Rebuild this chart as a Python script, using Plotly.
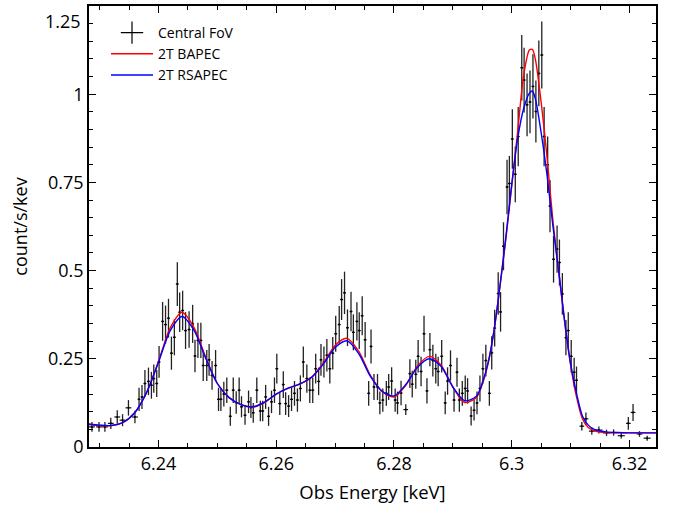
import plotly.graph_objects as go

# ---------------- data ----------------
energy = [6.2287, 6.2299, 6.2309, 6.2319, 6.2330, 6.2339, 6.2349, 6.2360, 6.2367, 6.2372,
          6.2377, 6.2383, 6.2388, 6.2392, 6.2397, 6.2401, 6.2407, 6.2412, 6.2417, 6.2422,
          6.2427, 6.2432, 6.2436, 6.2441, 6.2446, 6.2452, 6.2458, 6.2462, 6.2467, 6.2472,
          6.2476, 6.2482, 6.2486, 6.2491, 6.2497, 6.2502, 6.2506, 6.2511, 6.2516, 6.2522,
          6.2527, 6.2532, 6.2537, 6.2541, 6.2547, 6.2553, 6.2557, 6.2561, 6.2567, 6.2573,
          6.2577, 6.2582, 6.2587, 6.2592, 6.2597, 6.2601, 6.2606, 6.2612, 6.2616, 6.2621,
          6.2626, 6.2631, 6.2636, 6.2641, 6.2646, 6.2652, 6.2657, 6.2662, 6.2667, 6.2672,
          6.2676, 6.2681, 6.2686, 6.2691, 6.2696, 6.2701, 6.2707, 6.2711, 6.2716, 6.2721,
          6.2727, 6.2731, 6.2737, 6.2741, 6.2746, 6.2751, 6.2757, 6.2761, 6.2766, 6.2772,
          6.2776, 6.2781, 6.2787, 6.2791, 6.2796, 6.2802, 6.2806, 6.2812, 6.2820, 6.2827,
          6.2831, 6.2837, 6.2841, 6.2846, 6.2851, 6.2856, 6.2861, 6.2866, 6.2871, 6.2875,
          6.2881, 6.2887, 6.2891, 6.2896, 6.2902, 6.2907, 6.2911, 6.2916, 6.2921, 6.2925,
          6.2931, 6.2936, 6.2941, 6.2946, 6.2951, 6.2956, 6.2962, 6.2966, 6.2971, 6.2977,
          6.2981, 6.2986, 6.2992, 6.2996, 6.3001, 6.3006, 6.3011, 6.3017, 6.3021, 6.3026,
          6.3031, 6.3036, 6.3041, 6.3046, 6.3051, 6.3055, 6.3061, 6.3065, 6.3071, 6.3077,
          6.3081, 6.3086, 6.3092, 6.3096, 6.3101, 6.3106, 6.3110, 6.3119, 6.3126, 6.3136,
          6.3148, 6.3161, 6.3173, 6.3186, 6.3198, 6.3206, 6.3217, 6.3230]

rate = [0.057, 0.057, 0.057, 0.067, 0.085, 0.076, 0.111, 0.085, 0.135, 0.142,
        0.180, 0.186, 0.175, 0.194, 0.180, 0.241, 0.356, 0.347, 0.365, 0.266,
        0.311, 0.462, 0.382, 0.387, 0.330, 0.333, 0.349, 0.258, 0.302, 0.302,
        0.231, 0.231, 0.247, 0.203, 0.231, 0.135, 0.135, 0.150, 0.161, 0.087,
        0.161, 0.126, 0.161, 0.114, 0.090, 0.128, 0.112, 0.097, 0.161, 0.102,
        0.102, 0.142, 0.087, 0.128, 0.161, 0.222, 0.123, 0.177, 0.123, 0.116,
        0.135, 0.152, 0.133, 0.166, 0.241, 0.194, 0.161, 0.161, 0.222, 0.186,
        0.247, 0.241, 0.260, 0.222, 0.266, 0.321, 0.347, 0.418, 0.437, 0.338,
        0.384, 0.325, 0.356, 0.330, 0.372, 0.304, 0.152, 0.285, 0.170, 0.170,
        0.125, 0.133, 0.152, 0.170, 0.187, 0.133, 0.125, 0.153, 0.106, 0.208,
        0.178, 0.206, 0.257, 0.214, 0.321, 0.159, 0.276, 0.245, 0.222, 0.214,
        0.257, 0.125, 0.187, 0.231, 0.133, 0.212, 0.133, 0.152, 0.166, 0.159,
        0.088, 0.104, 0.125, 0.166, 0.222, 0.245, 0.152, 0.267, 0.337, 0.435,
        0.383, 0.569, 0.737, 0.747, 0.873, 0.773, 0.880, 1.075, 1.040, 0.970,
        0.978, 1.022, 0.951, 1.059, 1.111, 0.880, 0.800, 0.683, 0.532, 0.561,
        0.523, 0.434, 0.310, 0.330, 0.257, 0.212, 0.189, 0.059, 0.080, 0.045,
        0.048, 0.040, 0.041, 0.032, 0.067, 0.098, 0.037, 0.025]

rate_err = [0.014, 0.014, 0.014, 0.016, 0.019, 0.017, 0.022, 0.018, 0.033, 0.034,
            0.038, 0.039, 0.038, 0.040, 0.038, 0.045, 0.055, 0.054, 0.055, 0.047,
            0.051, 0.062, 0.056, 0.056, 0.052, 0.052, 0.054, 0.046, 0.050, 0.050,
            0.044, 0.044, 0.045, 0.041, 0.044, 0.033, 0.033, 0.035, 0.036, 0.027,
            0.036, 0.032, 0.036, 0.030, 0.027, 0.032, 0.030, 0.028, 0.036, 0.029,
            0.029, 0.034, 0.027, 0.032, 0.036, 0.042, 0.032, 0.038, 0.032, 0.031,
            0.033, 0.035, 0.033, 0.037, 0.044, 0.040, 0.036, 0.036, 0.042, 0.039,
            0.045, 0.044, 0.046, 0.042, 0.046, 0.051, 0.053, 0.058, 0.060, 0.052,
            0.056, 0.051, 0.054, 0.052, 0.055, 0.050, 0.035, 0.048, 0.037, 0.037,
            0.032, 0.033, 0.035, 0.037, 0.039, 0.033, 0.032, 0.035, 0.015, 0.041,
            0.038, 0.041, 0.046, 0.042, 0.051, 0.036, 0.047, 0.045, 0.042, 0.042,
            0.046, 0.032, 0.039, 0.043, 0.033, 0.041, 0.033, 0.035, 0.037, 0.036,
            0.027, 0.029, 0.032, 0.037, 0.042, 0.045, 0.035, 0.047, 0.052, 0.060,
            0.056, 0.068, 0.077, 0.078, 0.084, 0.079, 0.084, 0.093, 0.092, 0.089,
            0.089, 0.091, 0.088, 0.093, 0.095, 0.084, 0.080, 0.074, 0.066, 0.067,
            0.065, 0.059, 0.050, 0.052, 0.046, 0.041, 0.039, 0.012, 0.018, 0.010,
            0.010, 0.009, 0.009, 0.008, 0.018, 0.024, 0.008, 0.007]

energy_err = ([0.0005] * 8 + [0.00025] * 90 + [0.0004] + [0.00025] * 58
              + [0.0004, 0.0004, 0.0005, 0.0006, 0.0006, 0.0006, 0.0006, 0.0004,
                 0.0004, 0.0005, 0.0006])

model_energy = [6.2282, 6.230, 6.232, 6.234, 6.236, 6.238, 6.240, 6.242, 6.244, 6.246,
                6.248, 6.250, 6.252, 6.254, 6.256, 6.258, 6.260, 6.262, 6.264, 6.266,
                6.268, 6.270, 6.272, 6.274, 6.276, 6.278, 6.280, 6.282, 6.284, 6.286,
                6.288, 6.290, 6.292, 6.294, 6.295, 6.296, 6.297, 6.298, 6.299, 6.300,
                6.301, 6.302, 6.303, 6.3035, 6.304, 6.305, 6.306, 6.307, 6.308, 6.309,
                6.310, 6.311, 6.312, 6.313, 6.314, 6.316, 6.318, 6.320, 6.322, 6.3245]

bapec = [0.064, 0.061, 0.061, 0.070, 0.098, 0.155, 0.243, 0.338, 0.382, 0.340,
         0.255, 0.180, 0.140, 0.120, 0.113, 0.126, 0.150, 0.166, 0.178, 0.198,
         0.238, 0.288, 0.308, 0.272, 0.203, 0.157, 0.142, 0.175, 0.230, 0.257,
         0.232, 0.170, 0.126, 0.140, 0.178, 0.238, 0.330, 0.455, 0.590, 0.740,
         0.893, 1.050, 1.125, 1.127, 1.100, 0.976, 0.820, 0.640, 0.495, 0.352,
         0.232, 0.142, 0.080, 0.055, 0.046, 0.041, 0.040, 0.040, 0.040, 0.040]

rsapec = [0.065, 0.062, 0.061, 0.070, 0.098, 0.155, 0.240, 0.330, 0.370, 0.332,
          0.252, 0.180, 0.140, 0.120, 0.114, 0.127, 0.150, 0.167, 0.179, 0.197,
          0.235, 0.282, 0.301, 0.265, 0.200, 0.158, 0.145, 0.177, 0.226, 0.250,
          0.228, 0.170, 0.131, 0.144, 0.182, 0.240, 0.332, 0.457, 0.595, 0.745,
          0.874, 0.958, 1.003, 1.009, 0.988, 0.890, 0.770, 0.625, 0.495, 0.355,
          0.236, 0.152, 0.088, 0.062, 0.050, 0.043, 0.041, 0.040, 0.040, 0.040]

x_tickvals = [6.24, 6.26, 6.28, 6.30, 6.32]
x_ticktext = ["6.24", "6.26", "6.28", "6.3", "6.32"]
y_tickvals = [0, 0.25, 0.5, 0.75, 1.0]
y_ticktext = ["0", "0.25", "0.5", "0.75", "1"]
y_top_label = "1.25"

FONT = "Open Sans"

fig = go.Figure()

# data with error bars
fig.add_trace(go.Scatter(
    x=energy, y=rate, mode="markers",
    marker=dict(size=2, color="black"),
    error_y=dict(type="data", array=rate_err, color="#222222", thickness=1.3, width=0),
    error_x=dict(type="data", array=energy_err, color="#111111", thickness=1.2, width=0),
    showlegend=False, hoverinfo="skip",
))
# legend entry for the data
fig.add_trace(go.Scatter(
    x=[None], y=[None], mode="markers", name="Central FoV",
    marker=dict(symbol="cross-thin", size=17, color="black",
                line=dict(color="black", width=1.2)),
))
fig.add_trace(go.Scatter(
    x=model_energy, y=bapec, mode="lines", name="2T BAPEC",
    line=dict(color="#ff0000", width=1.4, shape="spline", smoothing=0.8),
))
fig.add_trace(go.Scatter(
    x=model_energy, y=rsapec, mode="lines", name="2T RSAPEC",
    line=dict(color="#0000ff", width=1.4, shape="spline", smoothing=0.8),
))

axis_common = dict(
    showline=True, linecolor="black", linewidth=1.5, mirror="ticks",
    ticks="inside", tickcolor="black", tickwidth=1, ticklen=7,
    showgrid=False, zeroline=False,
    tickfont=dict(family=FONT, size=18, color="black"),
)

fig.update_xaxes(
    range=[6.2282, 6.3245], tickvals=x_tickvals, ticktext=x_ticktext,
    minor=dict(dtick=0.005, tick0=6.24, ticks="inside", ticklen=4, tickcolor="black"),
    title=dict(text="Obs Energy [keV]", font=dict(family=FONT, size=18.5, color="black"),
               standoff=12),
    **axis_common,
)
fig.update_yaxes(
    range=[0, 1.25], tickvals=y_tickvals, ticktext=y_ticktext,
    minor=dict(dtick=0.05, tick0=0, ticks="inside", ticklen=4, tickcolor="black"),
    title=dict(text="count/s/kev", font=dict(family=FONT, size=18, color="black"),
               standoff=16),
    **axis_common,
)

# top tick label sits just below the frame edge, as in the reference
fig.add_annotation(text=y_top_label, xref="paper", yref="paper", x=0, y=1,
                   xanchor="right", yanchor="top", xshift=-6, yshift=-1,
                   showarrow=False, font=dict(family=FONT, size=18, color="black"))

fig.update_layout(
    width=673, height=508,
    margin=dict(l=89, r=17, t=4, b=61),
    paper_bgcolor="white", plot_bgcolor="white",
    font=dict(family=FONT, color="black"),
    legend=dict(x=0.03, y=0.975, xanchor="left", yanchor="top",
                bgcolor="rgba(0,0,0,0)", borderwidth=0,
                font=dict(family=FONT, size=14, color="black"),
                tracegroupgap=0, itemwidth=42),
)

fig.write_html("out.html")
